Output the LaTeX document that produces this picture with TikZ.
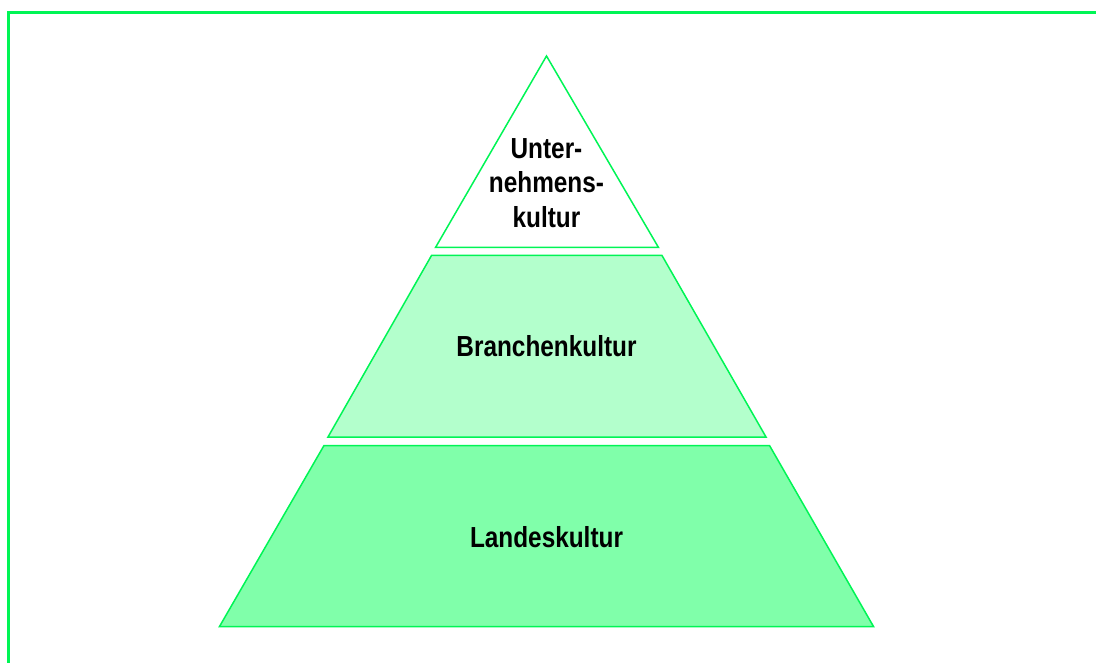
\documentclass[tikz,border=0pt]{standalone}
\usepackage{fontspec}
\setmainfont[FakeStretch=0.84]{Liberation Sans}
\definecolor{edge}{RGB}{0,245,85}
\definecolor{midfill}{RGB}{179,255,204}
\definecolor{basefill}{RGB}{128,255,170}
\begin{document}
\begin{tikzpicture}[x=1pt,y=-1pt,
  layer/.style={draw=edge,line width=1.5pt,line join=miter},
  label/.style={font=\fontsize{29}{34.5}\selectfont\bfseries,align=center,text=black,inner sep=0pt}]
  \useasboundingbox (0,0) rectangle (1096,663);
  % outer frame, open to the right and bottom
  \draw[edge,line width=3pt] (8.5,700) -- (8.5,12.5) -- (1120,12.5);
  % pyramid layers
  \draw[layer,fill=white] (546.5,56) -- (658.5,247.5) -- (435.5,247.5) -- cycle;
  \draw[layer,fill=midfill] (431.5,255.5) -- (662,255.5) -- (766,437) -- (328,437) -- cycle;
  \draw[layer,fill=basefill] (324,445.5) -- (769.5,445.5) -- (873.5,626.5) -- (219.5,626.5) -- cycle;
  % labels
  \node[label] (top) at (546.5,183) {Unter-\\nehmens-\\kultur};
  \node[label] (mid) at (546.5,346) {Branchenkultur};
  \node[label] (low) at (546.5,537) {Landeskultur};
\end{tikzpicture}
\end{document}
